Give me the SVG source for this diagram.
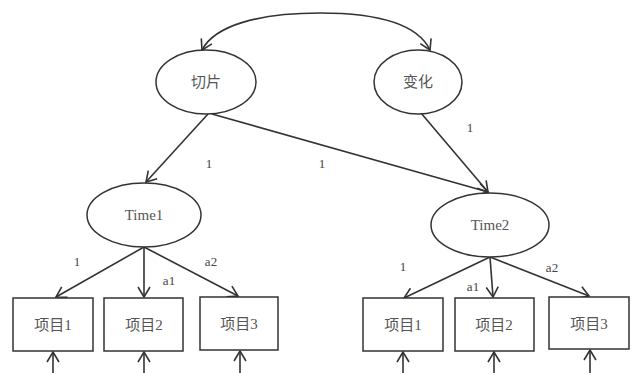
<svg xmlns="http://www.w3.org/2000/svg" width="632" height="373" viewBox="0 0 632 373">
<style>
.n{fill:#fff;stroke:#333;stroke-width:1.5}
.t{font-family:"Liberation Serif","Noto Sans CJK SC",serif;font-size:15px;fill:#555;text-anchor:middle}
.l{font-family:"Liberation Serif",serif;font-size:13px;fill:#444;text-anchor:middle}
.c{fill:none;stroke:#333;stroke-width:1.6;marker-end:url(#ah)}
</style>
<defs>
<marker id="ah" markerWidth="14" markerHeight="14" refX="12" refY="7" orient="auto" markerUnits="userSpaceOnUse">
<path d="M2,1 L12,7 L2,13" fill="none" stroke="#333" stroke-width="1.6"/>
</marker>
</defs>
<g id="connectors">
<path class="c" d="M320,13 C260,13 215,25 202,50"/>
<path class="c" d="M320,13 C380,13 418,25 430,50"/>
<line class="c" x1="208" y1="114" x2="146" y2="182"/>
<line class="c" x1="212" y1="114" x2="488" y2="192"/>
<line class="c" x1="421" y1="113" x2="488" y2="192"/>
<line class="c" x1="144" y1="247" x2="56" y2="297"/>
<line class="c" x1="144" y1="247" x2="144" y2="297"/>
<line class="c" x1="144" y1="247" x2="238" y2="296"/>
<line class="c" x1="490" y1="257" x2="404" y2="298"/>
<line class="c" x1="490" y1="257" x2="493" y2="297"/>
<line class="c" x1="490" y1="257" x2="589" y2="296"/>
<line class="c" x1="53" y1="373" x2="53" y2="352"/>
<line class="c" x1="144" y1="373" x2="144" y2="352"/>
<line class="c" x1="240" y1="373" x2="240" y2="351"/>
<line class="c" x1="403" y1="373" x2="403" y2="352"/>
<line class="c" x1="494" y1="373" x2="494" y2="352"/>
<line class="c" x1="590" y1="373" x2="590" y2="350"/>
<text class="l" x="209" y="168">1</text>
<text class="l" x="322" y="168">1</text>
<text class="l" x="470" y="132">1</text>
<text class="l" x="77" y="266">1</text>
<text class="l" x="169" y="285">a1</text>
<text class="l" x="211" y="266">a2</text>
<text class="l" x="403" y="271">1</text>
<text class="l" x="473" y="291">a1</text>
<text class="l" x="552" y="272">a2</text>
</g>
<g id="qiepian"><ellipse class="n" cx="206" cy="82" rx="50" ry="32"/><text class="t" x="206" y="87">切片</text></g>
<g id="bianhua"><ellipse class="n" cx="418" cy="82" rx="44" ry="32"/><text class="t" x="418" y="87">变化</text></g>
<g id="time1"><ellipse class="n" cx="144" cy="215" rx="57" ry="32"/><text class="t" x="144" y="220">Time1</text></g>
<g id="time2"><ellipse class="n" cx="490" cy="225" rx="59" ry="32"/><text class="t" x="490" y="230">Time2</text></g>
<g id="l1"><rect class="n" x="13" y="298" width="80" height="53"/><text class="t" x="53" y="330">项目1</text></g>
<g id="l2"><rect class="n" x="104" y="298" width="79" height="53"/><text class="t" x="144" y="330">项目2</text></g>
<g id="l3"><rect class="n" x="200" y="297" width="78" height="53"/><text class="t" x="239" y="329">项目3</text></g>
<g id="r1"><rect class="n" x="363" y="298" width="80" height="53"/><text class="t" x="403" y="330">项目1</text></g>
<g id="r2"><rect class="n" x="455" y="298" width="79" height="53"/><text class="t" x="494" y="330">项目2</text></g>
<g id="r3"><rect class="n" x="549" y="297" width="80" height="52"/><text class="t" x="589" y="329">项目3</text></g>
</svg>
